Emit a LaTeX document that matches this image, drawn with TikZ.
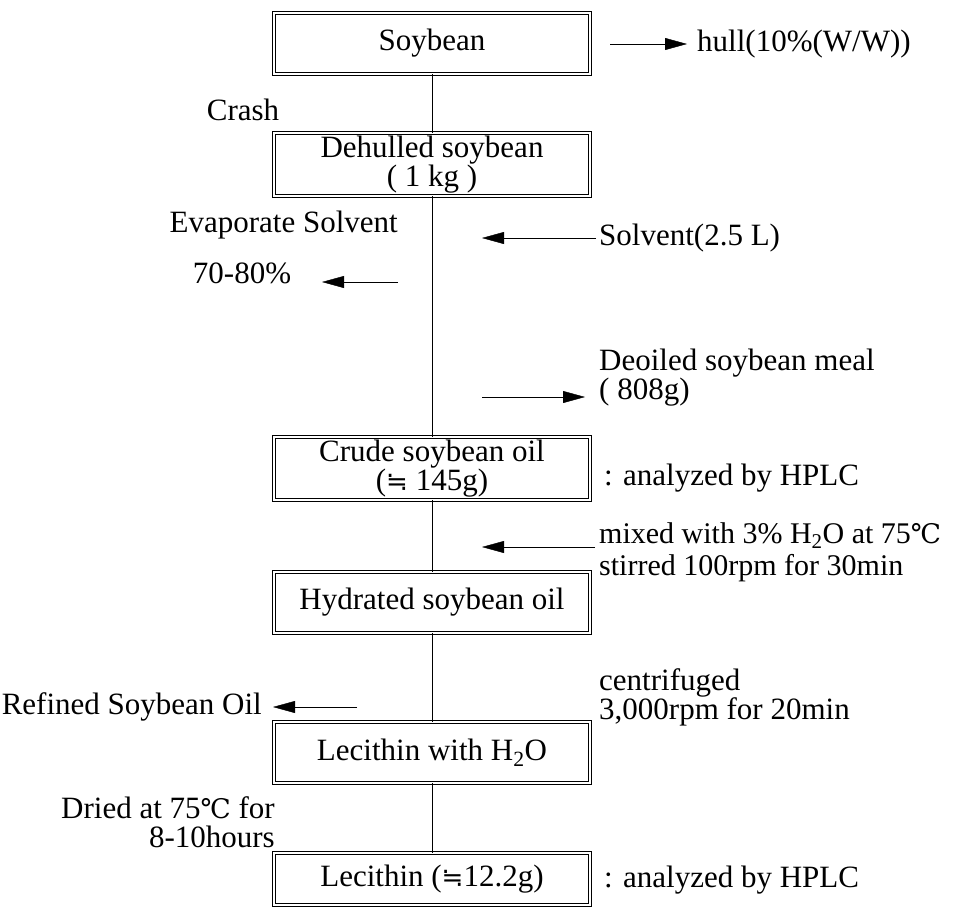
\documentclass[tikz,border=0pt]{standalone}
\usepackage{fontspec}
\setmainfont{Liberation Serif}
\newfontfamily\symsans{DejaVu Sans}
\newfontfamily\symserif{DejaVu Serif}
\usetikzlibrary{arrows.meta}
\newcommand{\dC}{{\symserif\fontsize{27}{29}\selectfont ℃}}
\newcommand{\aeq}{{\symsans\fontsize{26}{29}\selectfont ≒}}
\begin{document}
\begin{tikzpicture}[x=1pt, y=-1pt, font=\fontsize{31}{29}\selectfont,
	box/.style={draw, double, double distance=2.5pt, line width=0.8pt, minimum width=316pt, inner sep=0pt, align=center},
	l/.style={inner sep=0pt},
	>={Triangle[length=22pt,width=12pt]}]
	\useasboundingbox (0,0) rectangle (964,908);

	% main column
	\node[box, minimum height=61pt] (soy) at (432,43.5) {Soybean};
	\node[box, minimum height=63pt] (dehull) at (432,164.5) {Dehulled soybean\\( 1 kg )};
	\node[box, minimum height=63pt] (crude) at (432,468.5) {Crude soybean oil\\(\aeq{} 145g)};
	\node[box, minimum height=61pt] (hydr) at (432,602.5) {Hydrated soybean oil};
	\node[box, minimum height=61pt] (lecw) at (432,752.5) {Lecithin with H\textsubscript{2}O};
	\node[box, minimum height=52pt] (lec) at (432,879) {Lecithin (\aeq12.2g)};

	\draw (soy) -- (dehull);
	\draw (dehull) -- (crude);
	\draw (crude) -- (hydr);
	\draw (hydr) -- (lecw);
	\draw (lecw) -- (lec);

	% side notes
	\node[l, anchor=west] (hull) at (697,44) {hull(10\%(W/W))};
	\node[l] (crash) at (243,110) {Crash};
	\node[l, anchor=west] (solv) at (599,238) {Solvent(2.5 L)};
	\node[l, anchor=east] (evap) at (398,225) {Evaporate Solvent};
	\node[l] (pct) at (242,273) {70-80\%};
	\node[l, anchor=west, align=left] (meal) at (599,378) {Deoiled soybean meal\\( 808g)};
	\node[l, anchor=west] (hplc1) at (604,478) {: analyzed by HPLC};
	\node[l, anchor=west, align=left, font=\fontsize{30}{32}\selectfont] (mix) at (599,552) {mixed with 3\% H\textsubscript{2}O at 75\dC\\stirred 100rpm for 30min};
	\node[l, anchor=west, align=left] (cent) at (599,697) {centrifuged\\3,000rpm for 20min};
	\node[l, anchor=east] (refined) at (262,707) {Refined Soybean Oil};
	\node[l, anchor=east, align=right] (dried) at (275,822) {Dried at 75\dC{} for\\8-10hours};
	\node[l, anchor=west] (hplc2) at (604,880) {: analyzed by HPLC};

	% arrows
	\coordinate (hullT) at (610,44);
	\coordinate (solvH) at (482,238);
	\coordinate (evapT) at (398,282);
	\coordinate (evapH) at (322,282);
	\coordinate (mealT) at (482,397);
	\coordinate (mealH) at (585,397);
	\coordinate (mixT) at (595,547);
	\coordinate (mixH) at (482,547);
	\coordinate (refT) at (357,707);
	\coordinate (refH) at (273,707);

	\draw[->] (hullT) -- ([xshift=-10pt]hull.west);
	\draw[->] ([xshift=-3pt]solv.west) -- (solvH);
	\draw[->] (evapT) -- (evapH);
	\draw[->] (mealT) -- (mealH);
	\draw[->] (mixT) -- (mixH);
	\draw[->] (refT) -- (refH);
\end{tikzpicture}
\end{document}
